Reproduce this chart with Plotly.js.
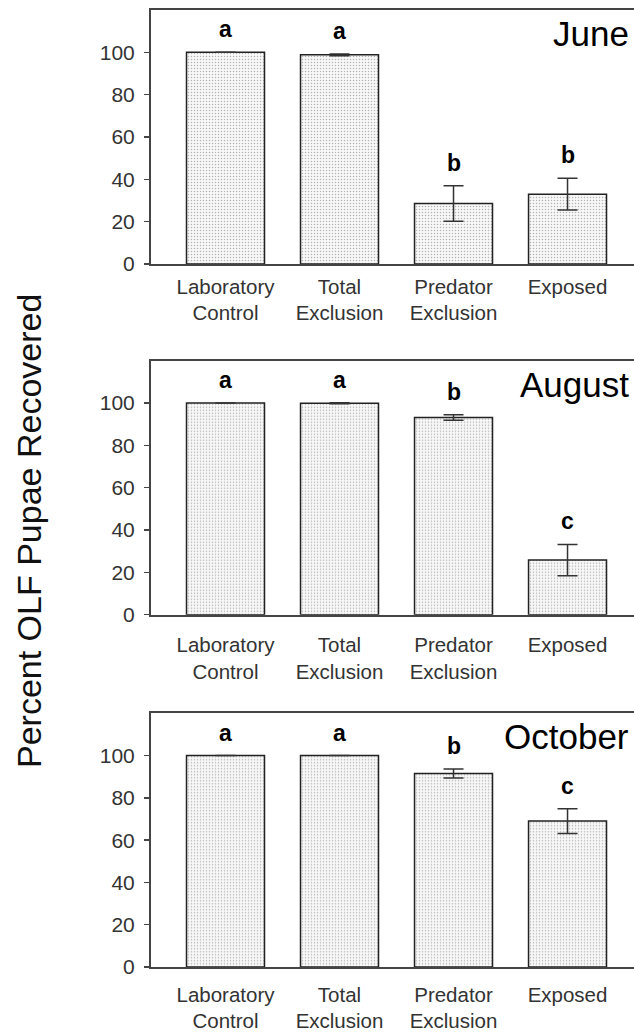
<!DOCTYPE html>
<html>
<head>
<meta charset="utf-8">
<script src="https://cdn.plot.ly/plotly-3.0.1.min.js"></script>
<style>html,body{margin:0;padding:0;background:#fff;}#chart{width:634px;height:1034px;}</style>
</head>
<body>
<div id="chart"></div>
<script>
// ---- data ----
var categories = ['Laboratory<br>Control', 'Total<br>Exclusion', 'Predator<br>Exclusion', 'Exposed'];
var months = ['June', 'August', 'October'];
var juneValues = [100, 98.8, 28.6, 33.0];
var juneErrors = [0, 0.4, 8.4, 7.5];
var juneLetters = ['a', 'a', 'b', 'b'];
var augustValues = [100, 99.9, 93.2, 25.8];
var augustErrors = [0, 0.2, 1.3, 7.4];
var augustLetters = ['a', 'a', 'b', 'c'];
var octoberValues = [100, 100, 91.5, 69.0];
var octoberErrors = [0, 0, 2.1, 5.8];
var octoberLetters = ['a', 'a', 'b', 'c'];
var yTicks = [0, 20, 40, 60, 80, 100];
var yTitle = 'Percent OLF Pupae Recovered';

var values = [juneValues, augustValues, octoberValues];
var errors = [juneErrors, augustErrors, octoberErrors];
var letters = [juneLetters, augustLetters, octoberLetters];

// ---- layout geometry (pixels in 634x1034 canvas) ----
var W = 634, H = 1034;
var panelPx = [[10, 264], [360.7, 614.7], [713.3, 967]];
var xLabelStandoff = [3, 11, 8];
var leftPx = 151;
var FONT = 'Arial, "Liberation Sans", sans-serif';

var traces = [];
var layout = {
  width: W, height: H,
  margin: {l: 0, r: 0, t: 0, b: 0},
  paper_bgcolor: '#fff', plot_bgcolor: '#fff',
  showlegend: false,
  font: {family: FONT, color: '#333'},
  annotations: []
};

for (var p = 0; p < 3; p++) {
  var sfx = p === 0 ? '' : String(p + 1);
  var xa = 'x' + sfx, ya = 'y' + sfx;
  traces.push({
    type: 'bar',
    x: categories,
    y: values[p],
    xaxis: xa, yaxis: ya,
    width: 0.684,
    marker: {
      color: '#ffffff',
      line: {color: '#222', width: 1.5},
      pattern: {shape: '.', fgcolor: '#b4b4b4', bgcolor: '#f8f8f8', size: 3, solidity: 0.2}
    },
    error_y: {type: 'data', array: errors[p], visible: true, color: '#333', thickness: 1.5, width: 10},
    hoverinfo: 'skip'
  });
  var dom = [1 - panelPx[p][1] / H, 1 - panelPx[p][0] / H];
  layout['xaxis' + sfx] = {
    domain: [leftPx / W, 1],
    anchor: ya,
    type: 'category',
    categoryorder: 'array', categoryarray: categories,
    range: [-0.6535, 3.583],
    showline: true, linecolor: '#444', linewidth: 2, mirror: true,
    showgrid: false, zeroline: false,
    ticks: '',
    tickfont: {family: FONT, size: 20.5, color: '#333'},
    ticklabelstandoff: xLabelStandoff[p]
  };
  layout['yaxis' + sfx] = {
    domain: dom,
    anchor: xa,
    range: [0, 120],
    tickvals: yTicks,
    ticktext: yTicks.map(String),
    showline: true, linecolor: '#444', linewidth: 2,
    ticks: 'outside', ticklen: 5, tickwidth: 1.5, tickcolor: '#444',
    showgrid: false, zeroline: false,
    tickfont: {family: FONT, size: 21, color: '#333'},
    ticklabelstandoff: 5
  };
  for (var i = 0; i < categories.length; i++) {
    layout.annotations.push({
      x: categories[i], y: values[p][i] + errors[p][i],
      xref: xa, yref: ya,
      text: '<b>' + letters[p][i] + '</b>',
      showarrow: false, yanchor: 'bottom', yshift: 8,
      font: {family: FONT, size: 23, color: '#000'}
    });
  }
  layout.annotations.push({
    x: 1, xref: 'paper', xanchor: 'right', xshift: -3,
    y: 1, yref: ya + ' domain', yanchor: 'top', yshift: -2,
    text: months[p], showarrow: false,
    font: {family: FONT, size: 35, color: '#000'}
  });
}

layout.annotations.push({
  x: 29 / W, xref: 'paper', xanchor: 'center',
  y: 1 - 531 / H, yref: 'paper', yanchor: 'middle',
  text: yTitle, textangle: -90, showarrow: false,
  font: {family: FONT, size: 34, color: '#111'}
});

Plotly.newPlot('chart', traces, layout, {staticPlot: true, displayModeBar: false});
</script>
</body>
</html>
